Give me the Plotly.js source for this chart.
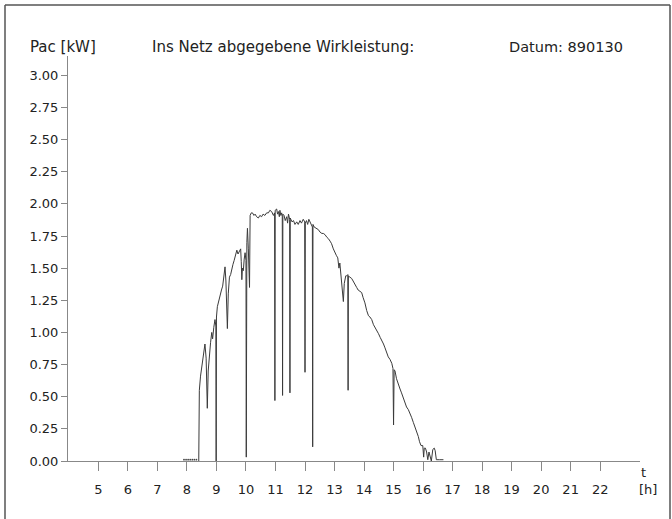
<!DOCTYPE html>
<html>
<head>
<meta charset="utf-8">
<script src="https://cdn.plot.ly/plotly-3.0.1.min.js"></script>
<style>html,body{margin:0;padding:0;background:#fff;}#chart{width:672px;height:519px;}</style>
</head>
<body>
<div id="chart"></div>
<script>
// Time of day [h] and fed-in active power Pac [kW]
const hours = [8.40,8.42,8.46,8.50,8.55,8.61,8.65,8.69,8.72,8.76,8.80,8.84,8.87,8.91,8.95,8.98,8.99,9.00,9.03,9.08,9.12,9.17,9.21,9.25,9.29,9.32,9.35,9.37,9.40,9.44,9.48,9.52,9.56,9.60,9.64,9.69,9.73,9.78,9.82,9.84,9.86,9.88,9.91,9.94,9.97,10.00,10.01,10.03,10.05,10.08,10.11,10.12,10.14,10.18,10.22,10.27,10.31,10.36,10.42,10.47,10.53,10.58,10.64,10.70,10.76,10.81,10.87,10.93,10.97,10.98,10.99,11.04,11.07,11.10,11.13,11.15,11.18,11.21,11.23,11.24,11.25,11.29,11.33,11.38,11.41,11.44,11.48,11.49,11.50,11.52,11.56,11.61,11.66,11.72,11.77,11.83,11.88,11.94,11.99,12.00,12.01,12.05,12.09,12.13,12.18,12.23,12.25,12.26,12.27,12.31,12.38,12.45,12.51,12.57,12.62,12.68,12.74,12.79,12.85,12.90,12.96,13.02,13.06,13.11,13.15,13.18,13.21,13.24,13.27,13.30,13.33,13.35,13.38,13.41,13.45,13.46,13.47,13.52,13.58,13.63,13.69,13.75,13.80,13.86,13.92,13.97,14.03,14.09,14.15,14.20,14.26,14.32,14.37,14.43,14.49,14.55,14.60,14.66,14.71,14.77,14.82,14.88,14.94,14.98,15.00,15.02,15.05,15.10,15.16,15.22,15.27,15.33,15.39,15.44,15.50,15.56,15.61,15.67,15.72,15.78,15.84,15.88,15.93,15.99,16.02,16.04,16.08,16.12,16.16,16.20,16.24,16.28,16.33,16.38,16.41,16.45,16.55,16.69];
const pac = [0.00,0.55,0.66,0.73,0.80,0.91,0.80,0.41,0.70,0.86,0.92,1.00,0.95,1.04,1.10,1.05,0.00,1.12,1.20,1.25,1.30,1.33,1.36,1.45,1.51,1.40,1.22,1.03,1.30,1.43,1.45,1.50,1.53,1.56,1.60,1.64,1.61,1.63,1.65,1.55,1.41,1.50,1.48,1.57,1.62,1.56,0.03,1.70,1.81,1.65,1.40,1.35,1.91,1.93,1.93,1.91,1.92,1.90,1.89,1.91,1.90,1.92,1.91,1.93,1.93,1.95,1.94,1.91,1.93,0.47,1.95,1.96,1.92,1.94,1.90,1.95,1.91,1.93,1.90,0.51,1.92,1.91,1.87,1.90,1.85,1.92,1.88,0.53,1.89,1.88,1.86,1.87,1.84,1.86,1.84,1.87,1.85,1.88,1.86,0.69,1.85,1.87,1.84,1.88,1.85,1.83,1.82,0.11,1.84,1.82,1.81,1.80,1.78,1.77,1.77,1.76,1.74,1.73,1.71,1.69,1.65,1.61,1.60,1.58,1.50,1.54,1.45,1.41,1.30,1.24,1.38,1.42,1.44,1.44,1.45,0.55,1.44,1.43,1.42,1.40,1.37,1.35,1.33,1.32,1.31,1.27,1.23,1.17,1.13,1.12,1.10,1.06,1.04,1.02,0.99,0.96,0.94,0.91,0.88,0.84,0.81,0.79,0.76,0.72,0.28,0.71,0.70,0.64,0.59,0.56,0.53,0.49,0.45,0.42,0.40,0.37,0.34,0.30,0.27,0.23,0.19,0.15,0.12,0.12,0.03,0.10,0.10,0.07,0.01,0.07,0.04,0.00,0.09,0.10,0.08,0.01,0.01,0.01];
// early-morning readings just above zero (dotted)
const dotHours = [7.90,7.97,8.04,8.11,8.18,8.25,8.32];
const dotPac = [0.01,0.01,0.01,0.01,0.01,0.01,0.01];
const xTicks = [5,6,7,8,9,10,11,12,13,14,15,16,17,18,19,20,21,22];
const yTicks = [0,0.25,0.5,0.75,1,1.25,1.5,1.75,2,2.25,2.5,2.75,3];

const font = 'DejaVu Sans, Verdana, sans-serif';
const ink = '#222';
const traces = [
  {x: hours, y: pac, type: 'scatter', mode: 'lines', line: {color: '#3a3a3a', width: 1}, hoverinfo: 'skip'},
  {x: dotHours, y: dotPac, type: 'scatter', mode: 'markers', marker: {color: '#444', size: 1.8}, hoverinfo: 'skip'}
];
const layout = {
  width: 672, height: 519,
  margin: {l: 68, r: 32, t: 56, b: 58, pad: 0},
  paper_bgcolor: '#fff', plot_bgcolor: '#fff',
  showlegend: false,
  font: {family: font, color: ink, size: 13},
  xaxis: {
    range: [3.97, 23.35], tickvals: xTicks, ticktext: xTicks.map(String),
    ticks: 'outside', ticklen: 9, tickcolor: '#888', tickwidth: 1,
    showline: true, linecolor: '#888', linewidth: 1, showgrid: false, zeroline: false,
    tickfont: {family: font, size: 13, color: ink}, ticklabelstandoff: 7
  },
  yaxis: {
    range: [0, 3.15], tickvals: yTicks, tickformat: '.2f',
    ticks: 'outside', ticklen: 6, tickcolor: '#888', tickwidth: 1,
    showline: true, linecolor: '#888', linewidth: 1, showgrid: false, zeroline: false,
    tickfont: {family: font, size: 13, color: ink}
  },
  annotations: [
    {xref: 'paper', yref: 'paper', x: (28 - 68) / 572, y: (461 - 47) / 405, xanchor: 'left', yanchor: 'middle', text: 'Pac [kW]', showarrow: false, font: {family: font, size: 15, color: ink}},
    {xref: 'paper', yref: 'paper', x: (150 - 68) / 572, y: (461 - 47) / 405, xanchor: 'left', yanchor: 'middle', text: 'Ins Netz abgegebene Wirkleistung:', showarrow: false, font: {family: font, size: 15, color: ink}},
    {xref: 'paper', yref: 'paper', x: (507 - 68) / 572, y: (461 - 47) / 405, xanchor: 'left', yanchor: 'middle', text: 'Datum: 890130', showarrow: false, font: {family: font, size: 14.5, color: ink}},
    {xref: 'paper', yref: 'paper', x: (643 - 68) / 572, y: (461 - 472) / 405, xanchor: 'center', yanchor: 'middle', text: 't', showarrow: false, font: {family: font, size: 13, color: ink}},
    {xref: 'paper', yref: 'paper', x: (648 - 68) / 572, y: (461 - 489) / 405, xanchor: 'center', yanchor: 'middle', text: '[h]', showarrow: false, font: {family: font, size: 13, color: ink}}
  ],
  shapes: [
    {type: 'line', xref: 'paper', yref: 'paper', x0: (5 - 68) / 572, x1: (5 - 68) / 572, y0: (461 - 5) / 405, y1: (461 - 519) / 405, line: {color: '#555', width: 1.5}},
    {type: 'line', xref: 'paper', yref: 'paper', x0: (5 - 68) / 572, x1: (670 - 68) / 572, y0: (461 - 5) / 405, y1: (461 - 5) / 405, line: {color: '#555', width: 1.5}},
    {type: 'line', xref: 'paper', yref: 'paper', x0: (670 - 68) / 572, x1: (670 - 68) / 572, y0: (461 - 5) / 405, y1: (461 - 519) / 405, line: {color: '#555', width: 1.5}}
  ]
};
Plotly.newPlot('chart', traces, layout, {staticPlot: true, displayModeBar: false});
</script>
</body>
</html>
